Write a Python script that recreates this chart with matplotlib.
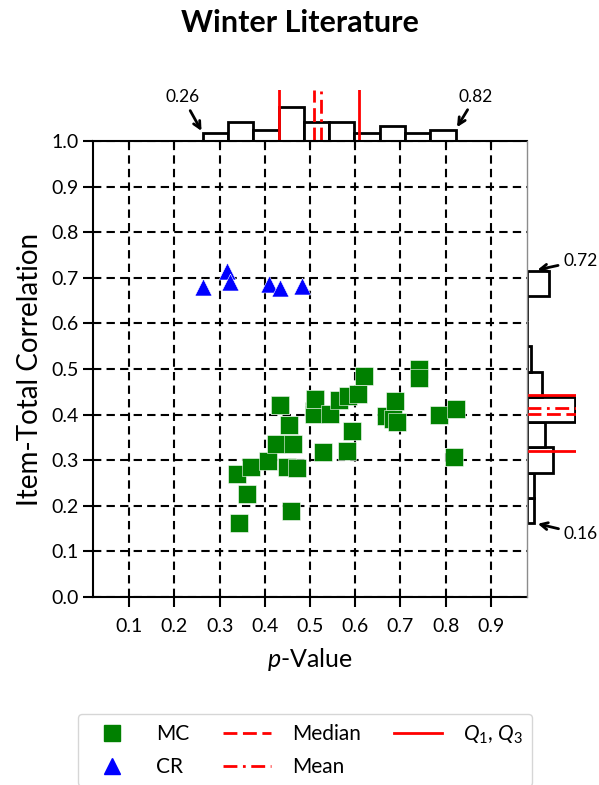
import numpy as np
import matplotlib
matplotlib.use('Agg')
import matplotlib.pyplot as plt

plt.rcParams['font.family'] = ['Lato', 'DejaVu Sans']
plt.rcParams['mathtext.fontset'] = 'custom'
plt.rcParams['mathtext.rm'] = 'Lato'
plt.rcParams['mathtext.it'] = 'Lato:italic'

title = 'Winter Literature'

# multiple-choice items: p-value, item-total correlation
mc_p = [0.339, 0.370, 0.344, 0.361, 0.408, 0.425, 0.433, 0.433, 0.454, 0.463,
        0.4485, 0.471, 0.457, 0.509, 0.509, 0.510, 0.510, 0.529, 0.544, 0.564,
        0.583, 0.593, 0.582, 0.606, 0.619, 0.669, 0.684, 0.689, 0.693, 0.741,
        0.742, 0.785, 0.822, 0.818]
mc_r = [0.270, 0.284, 0.162, 0.225, 0.299, 0.335, 0.420, 0.420, 0.377, 0.335,
        0.286, 0.282, 0.189, 0.408, 0.401, 0.434, 0.434, 0.319, 0.401, 0.432,
        0.441, 0.363, 0.321, 0.445, 0.485, 0.398, 0.390, 0.430, 0.383, 0.499,
        0.480, 0.400, 0.412, 0.308]

# constructed-response items
cr_p = [0.263, 0.316, 0.322, 0.409, 0.433, 0.482]
cr_r = [0.680, 0.716, 0.690, 0.686, 0.678, 0.682]

all_p = np.array(mc_p + cr_p)
all_r = np.array(mc_r + cr_r)

W, H = 599, 785
fig = plt.figure(figsize=(W / 100, H / 100), dpi=100)

def box(x0, y0, x1, y1):
    return [x0 / W, 1 - y1 / H, (x1 - x0) / W, (y1 - y0) / H]

ax = fig.add_axes(box(93, 141, 527, 597))
ax_top = fig.add_axes(box(93, 90, 527, 141), sharex=ax)
ax_right = fig.add_axes(box(527, 141, 576, 597), sharey=ax)

# main scatter
ax.scatter(mc_p, mc_r, marker='s', s=150, color='green', edgecolors='white',
           linewidths=0.4, label='MC', zorder=3)
ax.scatter(cr_p, cr_r, marker='^', s=150, color='blue', edgecolors='white',
           linewidths=0.4, label='CR', zorder=3)
ax.set_xlim(0.02, 0.98)
ax.set_ylim(0, 1.0)
ax.set_xticks(np.arange(0.1, 0.95, 0.1))
ax.set_yticks(np.arange(0, 1.05, 0.1))
ax.set_xticklabels([f'{v:.1f}' for v in np.arange(0.1, 0.95, 0.1)])
ax.set_yticklabels([f'{v:.1f}' for v in np.arange(0, 1.05, 0.1)])
ax.grid(True, color='black', linestyle=(0, (4, 2.5)), linewidth=1.5)
ax.tick_params(axis='both', labelsize=14, width=1.5, length=7, direction='out')
ax.tick_params(axis='x', pad=8)
for side in ['top', 'right']:
    ax.spines[side].set_visible(False)
for side in ['left', 'bottom']:
    ax.spines[side].set_linewidth(1.5)
ax.set_xlabel('$p$-Value', fontsize=18, labelpad=8)
ax.set_ylabel('Item-Total Correlation', fontsize=20, labelpad=6)

# marginal histograms
bins_p = np.linspace(all_p.min(), all_p.max(), 11)
bins_r = np.linspace(all_r.min(), all_r.max(), 11)
cnt_p, _, _ = ax_top.hist(all_p, bins=bins_p, facecolor='white', edgecolor='black', linewidth=2)
cnt_r, _, _ = ax_right.hist(all_r, bins=bins_r, orientation='horizontal',
                            facecolor='white', edgecolor='black', linewidth=2)
lim = max(cnt_p.max(), cnt_r.max()) * 1.03
ax_top.set_ylim(0, lim)
ax_right.set_xlim(0, lim)

q1p, medp, q3p = np.percentile(all_p, [25, 50, 75])
q1r, medr, q3r = np.percentile(all_r, [25, 50, 75])
ax_top.axvline(medp, color='red', linestyle=(0, (5, 2)), linewidth=2)
ax_top.axvline(all_p.mean(), color='red', linestyle=(0, (5, 2, 1, 2)), linewidth=2)
ax_top.axvline(q1p, color='red', linewidth=2)
ax_top.axvline(q3p, color='red', linewidth=2)
ax_right.axhline(medr, color='red', linestyle=(0, (5, 2)), linewidth=2)
ax_right.axhline(all_r.mean(), color='red', linestyle=(0, (5, 2, 1, 2)), linewidth=2)
ax_right.axhline(q1r, color='red', linewidth=2)
ax_right.axhline(q3r, color='red', linewidth=2)

for side in ['top', 'left', 'right']:
    ax_top.spines[side].set_visible(False)
ax_top.spines['bottom'].set_linewidth(1.5)
ax_top.tick_params(axis='x', labelbottom=False, width=1.5, length=5, direction='out')
ax_top.tick_params(axis='y', left=False, labelleft=False)

for side in ['top', 'bottom', 'right']:
    ax_right.spines[side].set_visible(False)
ax_right.spines['left'].set_color('0.55')
ax_right.spines['left'].set_linewidth(1)
ax_right.tick_params(axis='y', left=False, labelleft=False)
ax_right.tick_params(axis='x', bottom=False, labelbottom=False)

arrow = dict(arrowstyle='->', color='black', lw=2)
ax_top.annotate(f'{all_p.min():.2f}', xy=(bins_p[0], cnt_p[0]), xytext=(-20, 36),
                textcoords='offset pixels', ha='center', va='center', fontsize=12.5,
                arrowprops=arrow)
ax_top.annotate(f'{all_p.max():.2f}', xy=(bins_p[-1], cnt_p[-1]), xytext=(20, 33),
                textcoords='offset pixels', ha='center', va='center', fontsize=12.5,
                arrowprops=arrow)
ax_right.annotate(f'{all_r.max():.2f}', xy=(cnt_r[-1] * 0.35, bins_r[-1]), xytext=(46, 10),
                  textcoords='offset pixels', ha='center', va='center', fontsize=12.5,
                  arrowprops=arrow)
ax_right.annotate(f'{all_r.min():.2f}', xy=(cnt_r[0] * 1.1, bins_r[0]), xytext=(46, -11),
                  textcoords='offset pixels', ha='center', va='center', fontsize=12.5,
                  arrowprops=arrow)

fig.suptitle(title, fontsize=22, fontweight='bold', y=1 - 23 / H, va='center')

# legend
handles = [
    plt.Line2D([], [], marker='s', color='green', linestyle='none', markersize=11),
    plt.Line2D([], [], marker='^', color='blue', linestyle='none', markersize=11),
    plt.Line2D([], [], color='red', linestyle=(0, (5, 2)), linewidth=2),
    plt.Line2D([], [], color='red', linestyle=(0, (5, 2, 1, 2)), linewidth=2),
    plt.Line2D([], [], color='red', linewidth=2),
]
labels = ['MC', 'CR', 'Median', 'Mean', '$Q_1$, $Q_3$']
fig.legend(handles, labels, loc='upper center', bbox_to_anchor=(305 / W, 1 - 714 / H),
           ncol=3, fontsize=15, handlelength=2.3, handletextpad=1.0,
           columnspacing=1.6, labelspacing=0.6, borderpad=0.45, borderaxespad=0,
           fancybox=True)

fig.savefig('out.png', dpi=100)
